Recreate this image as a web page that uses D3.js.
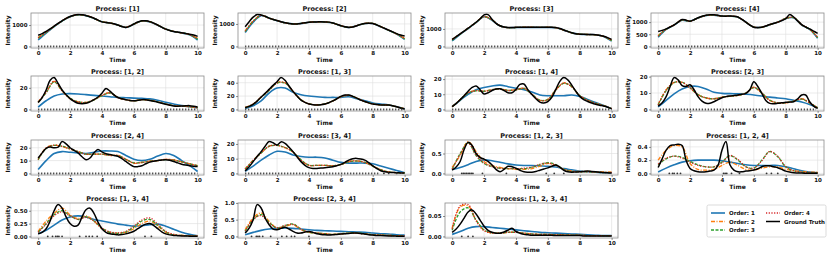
<!DOCTYPE html>
<html>
<head>
<meta charset="utf-8">
<script src="https://cdn.jsdelivr.net/npm/d3@7"></script>
<style>
  body { margin: 0; background: #fff; }
  text { font-family: "DejaVu Sans", sans-serif; font-weight: bold; fill: #111; }
</style>
</head>
<body>
<div id="chart"></div>
<script>
// intensity panels, one per process subset

var processes = ["[1]", "[2]", "[3]", "[4]", "[1, 2]", "[1, 3]", "[1, 4]", "[2, 3]",
  "[2, 4]", "[3, 4]", "[1, 2, 3]", "[1, 2, 4]", "[1, 3, 4]", "[2, 3, 4]", "[1, 2, 3, 4]"];

var yTickValues = [[0, 1000], [0, 1000], [0, 1000], [0, 500, 1000], [0, 20], [0, 20, 40], [0, 10, 20], [0, 10, 20],
  [0, 10, 20], [0, 10, 20], [0, 0.5], [0, 0.2, 0.4], [0, 0.25, 0.5], [0, 0.5, 1.0], [0, 0.05]];
var yTickFormats = ["d", "d", "d", "d", "d", "d", "d", "d", "d", "d", ".1f", ".1f", ".2f", ".1f", ".2f"];

var timeGrid = [0, 0.5, 1, 1.5, 2, 2.5, 3, 3.5, 4, 4.5, 5, 5.5, 6, 6.5, 7, 7.5, 8, 8.5, 9, 9.5, 10];
var truthGrid = [0, 0.25, 0.5, 0.75, 1, 1.25, 1.5, 1.75, 2, 2.25, 2.5, 2.75, 3, 3.25, 3.5, 3.75, 4, 4.25, 4.5, 4.75,
  5, 5.25, 5.5, 5.75, 6, 6.25, 6.5, 6.75, 7, 7.25, 7.5, 7.75, 8, 8.25, 8.5, 8.75, 9, 9.25, 9.5, 9.75, 10];

var order1 = [
  [300,620,930,1190,1390,1480,1440,1310,1150,1100,1000,890,1040,1190,1150,990,810,700,630,540,300],
  [620,1080,1370,1250,1145,1050,1000,1020,1075,1090,1088,1038,918,846,918,1018,1018,875,715,545,310],
  [320,690,1020,1360,1700,1500,1170,1070,1080,1090,1090,1085,1090,1070,930,775,695,680,665,570,300],
  [380,700,880,1080,1040,1170,1270,1290,1245,1245,1200,995,790,790,895,995,1150,1180,880,700,340],
  [2.2,8,12.4,14.3,14.6,14.3,13.7,13,12.4,11.8,11.1,10.8,10.5,10.2,9.8,8.5,6.7,5,3.5,2.5,1.6],
  [1.5,5.6,12.8,24.6,32,32,25.6,22,20,19,18,18,18,19,16,13,9.7,8,6.7,4,1],
  [2,6,10,13,14.5,15.5,16,15,14,13,11.5,9.5,9,9,9,9.5,8.6,6.5,4.5,2.5,0.5],
  [1.5,5.5,9.5,12.5,14,14,12.5,10.5,9.8,9.6,9.5,9.2,8.8,8.2,7.5,7,6.5,5.5,4.5,3,1],
  [3,10,15.5,17,16.5,16,15.5,16.5,17.5,17.5,17,14,11,10,11,13.5,15.5,14,10,6,1.5],
  [1.5,5,9,12.5,15,14.5,12.5,11.5,11,11,10.5,9,7.5,7,7,7,6.5,5,3.5,2,0.5],
  [0.1,0.15,0.22,0.3,0.34,0.32,0.28,0.24,0.21,0.2,0.2,0.19,0.18,0.16,0.12,0.09,0.06,0.04,0.03,0.02,0.02],
  [0.02,0.08,0.13,0.17,0.19,0.2,0.2,0.2,0.19,0.17,0.15,0.13,0.12,0.12,0.12,0.12,0.1,0.07,0.04,0.02,0.01],
  [0.05,0.12,0.22,0.32,0.38,0.4,0.38,0.33,0.3,0.27,0.24,0.22,0.2,0.21,0.23,0.24,0.2,0.14,0.08,0.04,0.01],
  [0.05,0.12,0.18,0.22,0.24,0.25,0.24,0.22,0.2,0.18,0.17,0.16,0.15,0.14,0.13,0.12,0.1,0.08,0.07,0.05,0.04],
  [0.005,0.012,0.02,0.024,0.024,0.022,0.02,0.018,0.016,0.014,0.012,0.01,0.009,0.008,0.007,0.006,0.005,0.004,0.003,0.002,0.002]
];

var order2 = [
  [420,660,940,1195,1395,1485,1445,1315,1150,1100,1000,895,1045,1195,1155,995,815,700,635,555,380],
  [700,1130,1385,1255,1148,1050,1000,1020,1075,1090,1090,1040,920,846,920,1020,1020,877,720,560,350],
  [400,715,1035,1375,1710,1510,1175,1075,1085,1095,1095,1088,1095,1075,935,778,698,682,668,575,350],
  [450,710,885,1090,1045,1175,1275,1295,1248,1248,1205,998,792,792,898,998,1155,1190,890,710,380],
  [7,16,26,17,10,7,6.5,9,13,15.5,11,9,8,9,8.5,7,5,3.5,3,2.5,1.5],
  [3,8,18.5,29,40,40,27,14.5,8.3,7,8.2,12.8,19,21,17,11.8,8.3,6.8,6.5,4,1],
  [1.8,6.5,11,12.5,12,13,13.5,12.5,13,14,10,6,6.5,13,17.5,15,9,6,4,2.5,0.5],
  [3,12,16.5,16.5,13,9,7,6.5,7.5,8,8.5,10,13.5,10,5.5,4,4,5,6.5,4,1],
  [11,20,22,21,19,17,15,15,15,14,14,11,8,8.5,9.5,10,11,10.5,9,7.5,6],
  [3,9,14,18.5,19,17.5,14.5,9,5.5,5.5,5.5,5.2,6,8,8.5,7.5,5,2.5,1,0.5,0.3],
  [0.15,0.45,0.8,0.55,0.3,0.2,0.15,0.12,0.1,0.1,0.12,0.18,0.25,0.2,0.1,0.06,0.05,0.05,0.04,0.04,0.03],
  [0.2,0.35,0.42,0.4,0.15,0.06,0.05,0.06,0.12,0.17,0.12,0.06,0.05,0.08,0.1,0.1,0.06,0.04,0.03,0.02,0.02],
  [0.1,0.3,0.45,0.55,0.42,0.35,0.4,0.3,0.15,0.08,0.06,0.08,0.15,0.25,0.3,0.2,0.08,0.03,0.02,0.015,0.01],
  [0.2,0.55,0.7,0.45,0.25,0.3,0.35,0.2,0.12,0.1,0.08,0.06,0.08,0.1,0.1,0.08,0.05,0.04,0.03,0.02,0.02],
  [0.02,0.072,0.075,0.04,0.015,0.008,0.008,0.01,0.01,0.008,0.006,0.005,0.005,0.004,0.004,0.003,0.003,0.002,0.002,0.002,0.002]
];

var order3 = [
  [380,650,935,1190,1390,1480,1440,1310,1150,1100,1000,890,1040,1190,1150,995,810,700,635,550,340],
  [660,1110,1380,1255,1148,1050,1000,1020,1075,1090,1090,1040,920,846,920,1020,1020,877,718,555,330],
  [360,700,1030,1370,1705,1505,1172,1072,1082,1092,1092,1086,1092,1072,932,776,696,681,666,572,330],
  [420,705,882,1085,1042,1172,1272,1292,1246,1246,1202,996,791,791,896,996,1152,1185,885,705,360],
  [6.5,15.5,25.5,17.5,10.5,7,6.5,8.8,12.8,15.2,11.2,9,8,9,8.5,7,5,3.6,3,2.6,1.6],
  [2.8,7.7,18,28.5,39.5,39.5,27,14.3,8.2,6.9,8.1,12.7,19,21,17,11.8,8.2,6.8,6.5,4,0.8],
  [1.7,6.3,10.8,12.3,12,13,13.5,12.5,12.8,13.8,10,6.1,6.6,12.8,17.2,15,9.1,6,4,2.5,0.5],
  [2.8,11.5,16.3,16.6,13.2,9,7,6.5,7.5,8,8.5,10,13.3,10,5.6,4,4,5,6.3,4,1],
  [10.5,19.5,21.8,21.2,19.2,17,15,15,15,14.2,13.8,11,8.2,8.6,9.5,10,10.8,10.4,9,7.5,6],
  [2.8,8.8,13.8,18.3,19,17.6,14.6,9.2,5.6,5.5,5.5,5.2,6,7.9,8.4,7.5,5,2.5,1,0.5,0.3],
  [0.1,0.5,0.77,0.45,0.25,0.17,0.13,0.12,0.12,0.12,0.15,0.22,0.27,0.22,0.1,0.05,0.04,0.04,0.03,0.02,0.02],
  [0.13,0.22,0.26,0.24,0.18,0.13,0.1,0.1,0.17,0.27,0.2,0.1,0.08,0.2,0.33,0.25,0.1,0.04,0.02,0.01,0.01],
  [0.08,0.25,0.42,0.5,0.4,0.33,0.38,0.3,0.16,0.08,0.06,0.09,0.18,0.3,0.33,0.22,0.09,0.03,0.02,0.01,0.01],
  [0.15,0.5,0.65,0.42,0.25,0.32,0.37,0.22,0.12,0.1,0.08,0.06,0.08,0.1,0.1,0.08,0.05,0.04,0.03,0.02,0.02],
  [0.015,0.06,0.07,0.04,0.016,0.009,0.008,0.01,0.01,0.008,0.006,0.005,0.005,0.004,0.004,0.003,0.003,0.002,0.002,0.002,0.002]
];

var order4 = [
  [400,655,940,1195,1395,1485,1445,1315,1150,1100,1000,895,1045,1195,1155,995,815,700,635,550,360],
  [680,1120,1382,1255,1148,1050,1000,1020,1075,1090,1090,1040,920,846,920,1020,1020,877,720,558,340],
  [380,710,1032,1372,1708,1508,1174,1074,1084,1094,1094,1087,1094,1074,934,777,697,681,667,574,340],
  [430,708,884,1088,1044,1174,1274,1294,1247,1247,1204,997,792,792,897,997,1154,1188,888,708,370],
  [6.8,16,26,17.2,10.2,7,6.5,8.9,13,15.4,11,9,8,9,8.5,7,5,3.5,3,2.5,1.5],
  [3,7.9,18.2,28.8,39.8,39.8,27,14.4,8.2,7,8.2,12.8,19,21,17,11.8,8.3,6.8,6.5,4,0.9],
  [1.8,6.4,10.9,12.4,12,13,13.5,12.5,12.9,13.9,10,6,6.5,12.9,17.4,15,9,6,4,2.5,0.5],
  [2.9,11.8,16.4,16.5,13.1,9,7,6.5,7.5,8,8.5,10,13.4,10,5.5,4,4,5,6.4,4,1],
  [10.8,19.8,22,21,19,17,15,15,15,14,14,11,8,8.5,9.5,10,11,10.5,9,7.5,6],
  [2.9,8.9,13.9,18.4,19,17.5,14.5,9.1,5.5,5.5,5.5,5.2,6,8,8.5,7.5,5,2.5,1,0.5,0.3],
  [0.11,0.48,0.76,0.46,0.26,0.17,0.13,0.12,0.12,0.13,0.16,0.23,0.26,0.21,0.1,0.05,0.04,0.04,0.03,0.02,0.02],
  [0.14,0.23,0.26,0.23,0.17,0.12,0.1,0.1,0.16,0.27,0.21,0.1,0.08,0.19,0.33,0.26,0.1,0.04,0.02,0.01,0.01],
  [0.08,0.24,0.4,0.48,0.4,0.33,0.37,0.3,0.16,0.09,0.07,0.1,0.2,0.32,0.36,0.24,0.1,0.04,0.02,0.01,0.01],
  [0.16,0.5,0.62,0.4,0.26,0.33,0.36,0.22,0.13,0.1,0.08,0.06,0.08,0.09,0.09,0.07,0.05,0.04,0.03,0.02,0.02],
  [0.018,0.075,0.078,0.038,0.014,0.008,0.008,0.01,0.01,0.008,0.006,0.005,0.005,0.004,0.004,0.003,0.003,0.002,0.002,0.002,0.002]
];

var groundTruth = [
  [520,600,700,820,950,1080,1200,1310,1400,1460,1490,1480,1450,1390,1320,1230,1150,1120,1100,1060,1000,930,890,950,1050,1140,1200,1200,1160,1090,1000,900,810,750,700,670,640,610,570,530,470],
  [877,1100,1300,1415,1400,1340,1260,1200,1150,1100,1050,1020,1000,1000,1020,1050,1075,1085,1090,1095,1090,1080,1040,980,920,870,846,860,920,980,1020,1035,1020,960,877,800,723,645,570,510,460],
  [400,560,720,880,1040,1210,1380,1580,1800,1820,1550,1320,1180,1110,1080,1080,1090,1100,1100,1100,1100,1100,1090,1095,1100,1100,1080,1020,940,860,780,720,700,690,685,680,670,630,580,500,400],
  [610,660,720,800,890,1000,1110,1080,1040,1100,1180,1240,1280,1300,1300,1280,1250,1245,1250,1240,1210,1110,1000,880,790,775,790,840,900,950,1000,1060,1140,1310,1210,1050,900,800,720,630,540],
  [6.3,11,18,27,29.5,24,18,13.5,10,7.5,5.7,5.3,5.7,7,9,11.5,15,19.4,17,13.5,11,9.8,9,8.3,8,8.4,9,9,8.3,7.5,6.7,5.8,4.8,3.9,3.2,3,3.2,3.4,3.5,3,2.2],
  [2.6,4.5,7.7,12.5,18.5,24,30,36,41.5,47.7,43.6,35,27,20,14,10.5,8,7,6.7,7,8,10,12.8,16,19.5,21.5,21.5,19.5,17,14,11.8,9.8,8.2,7.3,6.7,6.6,6.5,5.5,4,2.2,0.5],
  [1.8,3.8,6.4,9,12,14.5,15.5,13,10.2,11,12.5,13.5,13.6,12.5,11,11,13.2,16.5,16.8,13,9.8,7,4.8,4.3,5.2,8,13.2,18.5,21,19.5,16,12,8.6,6.5,5.2,4.2,3.4,2.8,2.3,1.4,0.5],
  [2,4,7.8,14,19.4,18,14.5,14,15,12,7.8,5,3.7,3.8,4.7,6,7.1,7.8,8.2,8.5,8.8,9.2,9.8,12,16.8,14,9.8,5.5,3.7,3.5,3.7,4,4.3,4.5,4.7,6.5,8.8,8.8,4.7,2,0.6],
  [12,16,19.5,20.5,20,20.5,24.8,23,20,18,16,13,10.7,12,16,18.7,16.8,15.3,14.7,14,13.3,11.5,9.3,7,5.3,5.3,6,7.5,8.8,9.5,10,10.5,10.7,10.2,9.3,8.2,7.2,6.5,6,5.6,5.3],
  [1.6,4.5,8,11.5,14.8,18.5,21.6,20.8,19.3,21.4,20.4,17.8,14.8,11.3,8,5.5,3.9,3.4,3.4,3.6,3.9,4.1,4.5,5.2,6.1,7.5,9,10,10.2,9.8,9,7.3,5.2,3.3,1.8,1.1,0.7,0.6,0.5,0.3,0.2],
  [0.08,0.16,0.3,0.6,0.78,0.7,0.5,0.4,0.36,0.3,0.21,0.1,0.04,0.1,0.18,0.17,0.13,0.08,0.04,0.03,0.03,0.05,0.08,0.11,0.14,0.18,0.21,0.16,0.08,0.04,0.03,0.035,0.04,0.05,0.06,0.05,0.04,0.03,0.02,0.015,0.01],
  [0.09,0.22,0.35,0.42,0.43,0.44,0.42,0.2,0.075,0.04,0.025,0.022,0.025,0.035,0.05,0.12,0.35,0.48,0.13,0.05,0.025,0.025,0.035,0.04,0.05,0.07,0.1,0.115,0.115,0.1,0.085,0.06,0.035,0.02,0.01,0.007,0.005,0.004,0.003,0.002,0.001],
  [0.05,0.08,0.15,0.3,0.5,0.62,0.55,0.38,0.25,0.2,0.22,0.38,0.52,0.55,0.45,0.28,0.15,0.08,0.05,0.04,0.03,0.035,0.05,0.07,0.1,0.15,0.2,0.24,0.25,0.21,0.15,0.09,0.05,0.03,0.02,0.015,0.01,0.008,0.005,0.004,0.003],
  [0.1,0.25,0.5,0.95,0.85,0.55,0.35,0.22,0.2,0.24,0.27,0.22,0.15,0.1,0.1,0.13,0.15,0.12,0.08,0.06,0.05,0.045,0.05,0.06,0.07,0.08,0.09,0.1,0.1,0.09,0.07,0.05,0.04,0.03,0.025,0.02,0.015,0.01,0.008,0.006,0.005],
  [0.01,0.018,0.03,0.045,0.06,0.065,0.055,0.04,0.025,0.015,0.01,0.008,0.008,0.011,0.015,0.02,0.012,0.008,0.005,0.004,0.003,0.003,0.003,0.003,0.003,0.003,0.002,0.002,0.002,0.002,0.002,0.002,0.002,0.001,0.001,0.001,0.001,0.001,0.001,0.001,0.001]
];

// observed events: dense stretches as [start, end], plus single times
var eventSpans = [[0, 10], [0, 10], [0, 10], [0, 10], [0, 10], [0, 10], [0, 10], [0.1, 9.9],
  [0, 10], [0, 8.4], null, null, null, null, null];
var eventTimes = [[], [], [], [], [], [], [], [], [], [8.7, 9.0, 9.5],
  [0.6, 0.7, 0.8, 0.9, 1.0, 1.1, 1.2, 1.3, 1.9, 3.4, 5.9, 6.4, 7.0],
  [0.7, 0.9, 1.0, 1.2, 1.4, 4.1, 4.2, 4.3, 4.6, 5.1, 6.8, 7.1, 7.5],
  [0.6, 0.9, 1.1, 1.2, 1.3, 1.5, 2.6, 3.0, 3.2, 3.4, 3.7, 6.7, 7.1],
  [0.4, 0.7, 0.8, 0.9, 1.1, 1.6, 2.3, 2.6, 2.9, 3.1, 4.0],
  [0.6, 1.0, 1.3]];

var seriesNames = ["Order: 1", "Order: 2", "Order: 3", "Order: 4", "Ground Truth"];
var seriesColors = ["#1f77b4", "#ff7f0e", "#2ca02c", "#d62728", "#000000"];
var seriesDash = [null, "4,1.5,1,1.5", "3,1.5", "1.2,1.5", null];
var seriesWidth = [1.6, 1.3, 1.3, 1.3, 1.5];

var svgWidth = 830, svgHeight = 260;
var colLeft = [31, 238, 445, 651];
var rowTop = [13, 76, 140, 203];
var pw = 173, ph = 35;
var xTicks = [0, 2, 4, 6, 8, 10];

var svg = d3.select("#chart").append("svg")
  .attr("width", svgWidth)
  .attr("height", svgHeight);

var x = d3.scaleLinear().domain([-0.45, 10.4]).range([0, pw]);

processes.forEach(function(name, i) {
  var g = svg.append("g")
    .attr("transform", `translate(${colLeft[i % 4]}, ${rowTop[Math.floor(i / 4)]})`);

  var series = [order1[i], order2[i], order3[i], order4[i]].map(function(v) {
    return v.map(function(val, k) { return [timeGrid[k], val]; });
  });
  series.push(groundTruth[i].map(function(val, k) { return [truthGrid[k], val]; }));

  var ymax = d3.max(series, function(s) { return d3.max(s, function(d) { return d[1]; }); });
  var y = d3.scaleLinear().domain([-0.05 * ymax, 1.05 * ymax]).range([ph, 0]);

  // grid
  g.append("g").selectAll("line").data(xTicks).enter().append("line")
    .attr("x1", d => x(d)).attr("x2", d => x(d))
    .attr("y1", 0).attr("y2", ph)
    .attr("stroke", "#dedede").attr("stroke-width", 0.6);
  g.append("g").selectAll("line").data(yTickValues[i]).enter().append("line")
    .attr("x1", 0).attr("x2", pw)
    .attr("y1", d => y(d)).attr("y2", d => y(d))
    .attr("stroke", "#dedede").attr("stroke-width", 0.6);

  var line = d3.line()
    .x(d => x(d[0]))
    .y(d => y(d[1]))
    .curve(d3.curveCatmullRom.alpha(0.5));

  g.append("defs").append("clipPath").attr("id", "clip" + i)
    .append("rect").attr("width", pw).attr("height", ph);

  var plot = g.append("g").attr("clip-path", `url(#clip${i})`);

  series.forEach(function(s, k) {
    plot.append("path")
      .datum(s)
      .attr("d", line)
      .attr("fill", "none")
      .attr("stroke", seriesColors[k])
      .attr("stroke-width", seriesWidth[k])
      .attr("stroke-dasharray", seriesDash[k]);
  });

  // events at zero
  if (eventSpans[i]) {
    plot.append("line")
      .attr("x1", x(eventSpans[i][0])).attr("x2", x(eventSpans[i][1]))
      .attr("y1", y(0)).attr("y2", y(0))
      .attr("stroke", "#333").attr("stroke-width", 2)
      .attr("stroke-dasharray", "1.1,1.9");
  }
  plot.append("g").selectAll("circle").data(eventTimes[i]).enter().append("circle")
    .attr("cx", d => x(d)).attr("cy", y(0))
    .attr("r", 0.9).attr("fill", "#333");

  // frame
  g.append("rect")
    .attr("width", pw).attr("height", ph)
    .attr("fill", "none").attr("stroke", "#8c8c8c").attr("stroke-width", 0.8);

  var bottomAxis = d3.axisBottom(x).tickValues(xTicks).tickFormat(d3.format("d")).tickSize(2).tickPadding(1);
  var leftAxis = d3.axisLeft(y).tickValues(yTickValues[i]).tickFormat(d3.format(yTickFormats[i])).tickSize(2).tickPadding(1.5);

  var xa = g.append("g").attr("transform", `translate(0, ${ph})`).call(bottomAxis);
  var ya = g.append("g").call(leftAxis);
  [xa, ya].forEach(function(a) {
    a.select(".domain").remove();
    a.selectAll("line").attr("stroke", "#444").attr("stroke-width", 0.6);
    a.selectAll("text").attr("font-size", "5.5px").attr("font-family", "DejaVu Sans").attr("font-weight", "bold");
  });

  g.append("text")
    .attr("x", pw / 2).attr("y", -2.2)
    .attr("text-anchor", "middle")
    .attr("font-size", "6.5px")
    .text("Process: " + name);

  g.append("text")
    .attr("x", pw / 2).attr("y", ph + 13.8)
    .attr("text-anchor", "middle")
    .attr("font-size", "6px")
    .text("Time");

  g.append("text")
    .attr("transform", "rotate(-90)")
    .attr("x", -ph / 2).attr("y", -21)
    .attr("text-anchor", "middle")
    .attr("font-size", "6px")
    .text("Intensity");
});

// legend
var legend = svg.append("g").attr("transform", "translate(707, 205)");
legend.append("rect")
  .attr("width", 119).attr("height", 32).attr("rx", 1.5)
  .attr("fill", "#fff").attr("stroke", "#ccc").attr("stroke-width", 0.7);

seriesNames.forEach(function(n, k) {
  var col = k < 3 ? 0 : 1;
  var row = k < 3 ? k : k - 3;
  var item = legend.append("g").attr("transform", `translate(${4 + col * 55}, ${8 + row * 8.5})`);
  item.append("line")
    .attr("x1", 0).attr("x2", 14)
    .attr("stroke", seriesColors[k])
    .attr("stroke-width", seriesWidth[k])
    .attr("stroke-dasharray", seriesDash[k]);
  item.append("text")
    .attr("x", 18).attr("y", 2)
    .attr("font-size", "5.5px")
    .text(n);
});
</script>
</body>
</html>
